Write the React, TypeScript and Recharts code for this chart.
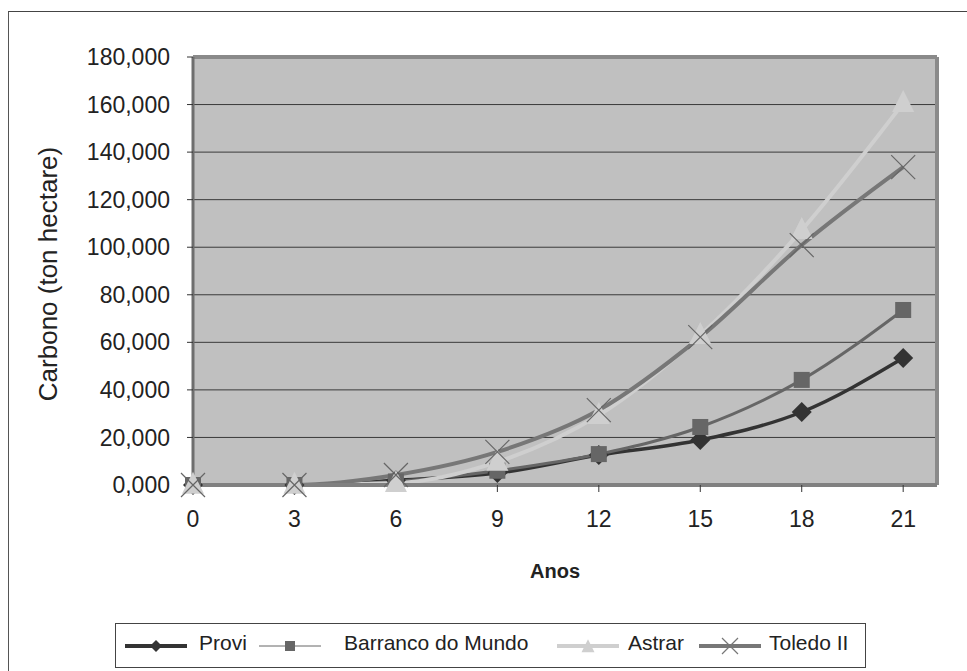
import React from "react";
import {
  LineChart,
  Line,
  XAxis,
  YAxis,
  CartesianGrid,
  ReferenceLine,
  Label,
} from "recharts";

const years = [0, 3, 6, 9, 12, 15, 18, 21];
const provi = [0, 0, 2000, 5000, 12600, 18900, 30700, 53400];
const barranco = [0, 0, 1500, 6000, 13000, 24400, 44200, 73600];
const astrar = [0, 0, 800, 9700, 29400, 63000, 107200, 160600];
const toledo = [0, 0, 4200, 13900, 31500, 62200, 100900, 133700];

const xTicks = [0, 3, 6, 9, 12, 15, 18, 21];
const yTicks = [0, 20000, 40000, 60000, 80000, 100000, 120000, 140000, 160000, 180000];

const data = years.map((year, i) => ({
  year,
  provi: provi[i],
  barranco: barranco[i],
  astrar: astrar[i],
  toledo: toledo[i],
}));

const FONT = "'Liberation Sans', Arial, sans-serif";

const fmt = (v: number) => `${v / 1000},000`;

function Diamond({ cx, cy, r = 10, fill = "#333" }: any) {
  return (
    <path
      d={`M${cx},${cy - r}L${cx + r},${cy}L${cx},${cy + r}L${cx - r},${cy}Z`}
      fill={fill}
    />
  );
}

function Square({ cx, cy, s = 16, fill = "#666" }: any) {
  return <rect x={cx - s / 2} y={cy - s / 2} width={s} height={s} fill={fill} />;
}

function Triangle({ cx, cy, s = 22, fill = "#CFCFCF" }: any) {
  const h = s;
  return (
    <path
      d={`M${cx},${cy - h * 0.6}L${cx + s / 2},${cy + h * 0.4}L${cx - s / 2},${cy + h * 0.4}Z`}
      fill={fill}
    />
  );
}

function Cross({ cx, cy, r = 12, stroke = "#666" }: any) {
  return (
    <path
      d={`M${cx - r},${cy - r}L${cx + r},${cy + r}M${cx + r},${cy - r}L${cx - r},${cy + r}`}
      stroke={stroke}
      strokeWidth={1.2}
      fill="none"
    />
  );
}

const legendItems = [
  { name: "Provi", color: "#333", width: 4, marker: "diamond" },
  { name: "Barranco do Mundo", color: "#666", width: 1, marker: "square" },
  { name: "Astrar", color: "#CFCFCF", width: 4, marker: "triangle" },
  { name: "Toledo II", color: "#777", width: 4, marker: "cross" },
];
const legendIconLeft = [9, 143, 441, 583];
const legendTextLeft = [83, 228, 512, 653];

function LegendIcon({ item }: any) {
  const cx = 31;
  const cy = 12;
  return (
    <svg width={62} height={24}>
      <line x1={0} x2={62} y1={cy} y2={cy} stroke={item.color} strokeWidth={item.width} />
      {item.marker === "diamond" && <Diamond cx={cx} cy={cy} r={6} fill={item.color} />}
      {item.marker === "square" && <Square cx={cx} cy={cy} s={10} fill={item.color} />}
      {item.marker === "triangle" && <Triangle cx={cx} cy={cy + 1} s={13} fill={item.color} />}
      {item.marker === "cross" && <Cross cx={cx} cy={cy} r={8} stroke={item.color} />}
    </svg>
  );
}

export default function App() {
  return (
    <>
      <style>{`body{margin:0;overflow:hidden;background:#fff}`}</style>
      <div
        style={{
          position: "absolute",
          left: 8,
          top: 11,
          width: 960,
          height: 661,
          borderLeft: "1px solid #555",
          borderTop: "1px solid #444",
          overflow: "hidden",
          fontFamily: FONT,
        }}
      >
        <LineChart
          width={958}
          height={659}
          data={data}
          margin={{ top: 45, right: 30, left: 0, bottom: 126 }}
        >
          <CartesianGrid
            vertical={false}
            fill="#C0C0C0"
            stroke="#3a3a3a"
            strokeWidth={1}
          />
          <XAxis
            dataKey="year"
            type="number"
            domain={[0, 22]}
            ticks={xTicks}
            height={60}
            axisLine={{ stroke: "#808080", strokeWidth: 4 }}
            tickLine={{ stroke: "#333" }}
            tickSize={7}
            tickMargin={19}
            tick={{ fill: "#222", fontSize: 23, fontFamily: FONT }}
          >
            <Label
              content={({ viewBox }: any) => (
                <text
                  x={viewBox.x + viewBox.width / 2 - 10}
                  y={viewBox.y + 93}
                  textAnchor="middle"
                  fontFamily={FONT}
                  fontSize={20}
                  fontWeight="bold"
                  fill="#222"
                >
                  Anos
                </text>
              )}
            />
          </XAxis>
          <YAxis
            type="number"
            domain={[0, 180000]}
            ticks={yTicks}
            width={184}
            tickFormatter={fmt}
            axisLine={{ stroke: "#6e6e6e", strokeWidth: 3 }}
            tickLine={{ stroke: "#333" }}
            tickSize={6}
            tickMargin={17}
            tick={{ fill: "#222", fontSize: 23, fontFamily: FONT }}
            interval={0}
          >
            <Label
              content={({ viewBox }: any) => {
                const cx = 39;
                const cy = viewBox.y + viewBox.height / 2 + 3;
                return (
                  <text
                    x={cx}
                    y={cy}
                    transform={`rotate(-90 ${cx} ${cy})`}
                    textAnchor="middle"
                    dominantBaseline="central"
                    fontFamily={FONT}
                    fontSize={26}
                    fill="#222"
                  >
                    Carbono (ton hectare)
                  </text>
                );
              }}
            />
          </YAxis>
          <ReferenceLine y={180000} stroke="#8a8a8a" strokeWidth={4} />
          <ReferenceLine x={22} stroke="#8a8a8a" strokeWidth={4} />
          <Line
            dataKey="provi"
            type="monotone"
            stroke="#333"
            strokeWidth={3.5}
            isAnimationActive={false}
            dot={(p: any) => <Diamond key={`p${p.index}`} cx={p.cx} cy={p.cy} fill="#333" />}
            activeDot={false}
          />
          <Line
            dataKey="barranco"
            type="monotone"
            stroke="#666"
            strokeWidth={3}
            isAnimationActive={false}
            dot={(p: any) => <Square key={`b${p.index}`} cx={p.cx} cy={p.cy} fill="#666" />}
            activeDot={false}
          />
          <Line
            dataKey="astrar"
            type="monotone"
            stroke="#CFCFCF"
            strokeWidth={4}
            isAnimationActive={false}
            dot={(p: any) => <Triangle key={`a${p.index}`} cx={p.cx} cy={p.cy} fill="#CFCFCF" />}
            activeDot={false}
          />
          <Line
            dataKey="toledo"
            type="monotone"
            stroke="#777"
            strokeWidth={4}
            isAnimationActive={false}
            dot={(p: any) => <Cross key={`t${p.index}`} cx={p.cx} cy={p.cy} stroke="#666" />}
            activeDot={false}
          />
        </LineChart>

        <div
          style={{
            position: "absolute",
            left: 106,
            top: 611,
            width: 751,
            height: 45,
            border: "1px solid #444",
            boxSizing: "border-box",
          }}
        >
          {legendItems.map((item, i) => (
            <React.Fragment key={item.name}>
              <div style={{ position: "absolute", left: legendIconLeft[i], top: 10 }}>
                <LegendIcon item={item} />
              </div>
              <div
                style={{
                  position: "absolute",
                  left: legendTextLeft[i],
                  top: 7,
                  fontSize: 21,
                  lineHeight: "24px",
                  color: "#222",
                  whiteSpace: "nowrap",
                }}
              >
                {item.name}
              </div>
            </React.Fragment>
          ))}
        </div>
      </div>
    </>
  );
}
